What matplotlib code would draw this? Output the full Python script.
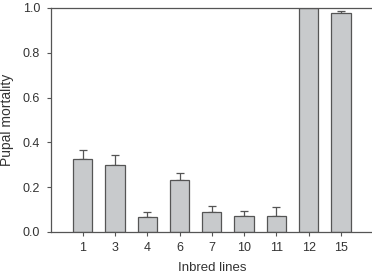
import numpy as np
import matplotlib
matplotlib.use("Agg")
import matplotlib.pyplot as plt

plt.rcParams['font.family'] = ['Liberation Sans', 'DejaVu Sans']

lines = ["1", "3", "4", "6", "7", "10", "11", "12", "15"]
mortality = [0.326, 0.298, 0.066, 0.234, 0.088, 0.073, 0.071, 1.0, 0.976]
err_upper = [0.039, 0.047, 0.022, 0.028, 0.027, 0.019, 0.042, 0.0, 0.009]

edge = '#555555'
txt = '#333333'

fig = plt.figure(figsize=(3.72, 2.77), dpi=100)
ax = fig.add_axes([50.5 / 372, 1 - 232 / 277, 1 - 50.5 / 372 + 0.003, 224 / 277])

pos = np.arange(len(lines))
ax.bar(pos, mortality, width=0.6, color='#c8cacc', edgecolor=edge, linewidth=0.9, zorder=2)
ax.errorbar(pos, mortality, yerr=[np.zeros(len(pos)), err_upper], fmt='none',
            ecolor=edge, elinewidth=0.9, capsize=3, capthick=0.9, zorder=1)

ax.set_xlim(-1, 9)
ax.set_ylim(0, 1.0)
ax.set_xticks(pos)
ax.set_xticklabels(lines)
ax.set_yticks([0.0, 0.2, 0.4, 0.6, 0.8, 1.0])
ax.set_yticklabels(["0.0", "0.2", "0.4", "0.6", "0.8", "1.0"])

for s in ['left', 'bottom', 'top']:
    ax.spines[s].set_color(edge)
    ax.spines[s].set_linewidth(0.9)
ax.spines['right'].set_visible(False)

ax.tick_params(axis='both', direction='out', length=3, width=0.8, color=edge,
               labelsize=9, labelcolor=txt)
ax.tick_params(axis='x', pad=4)
ax.tick_params(axis='y', pad=4.5)

ax.set_xlabel("Inbred lines", fontsize=9.5, color=txt)
ax.set_ylabel("Pupal mortality", fontsize=10, color=txt)
ax.xaxis.set_label_coords(0.5, -(268 - 232) / 224, transform=ax.transAxes)
ax.yaxis.set_label_coords(-(50.5 - 7.5) / 321, 0.5, transform=ax.transAxes)
ax.xaxis.label.set_va('center')
ax.yaxis.label.set_va('center')

fig.savefig("out.png", dpi=100)
